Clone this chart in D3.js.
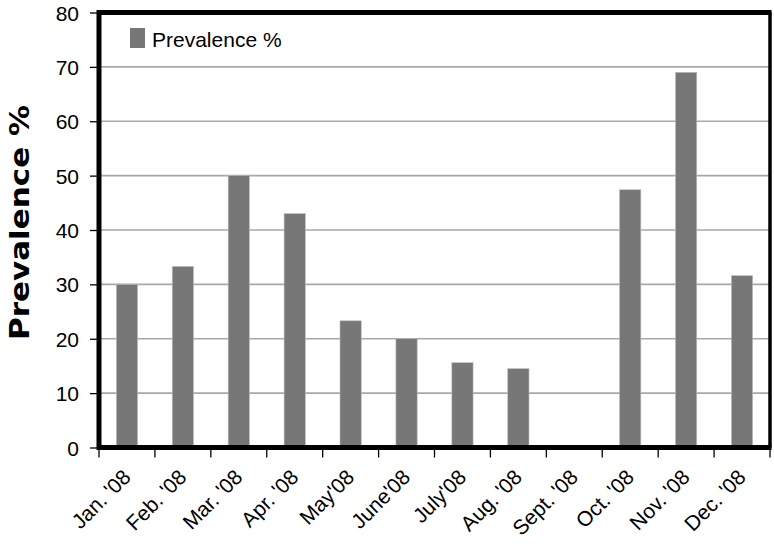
<!DOCTYPE html>
<html lang="en">
<head>
  <meta charset="UTF-8">
  <title>Prevalence %</title>
  <style>
    body { margin: 0; background: #fff; }
    .axis text { font-family: "Liberation Sans", Arial, sans-serif; fill: #000; }
    .grid line { stroke: #a8a8a8; stroke-width: 1.6; }
  </style>
</head>
<body>
  <script src="https://cdn.jsdelivr.net/npm/d3@7/dist/d3.min.js"></script>
  <script>
    // data
    var months = ["Jan. '08", "Feb. '08", "Mar. '08", "Apr. '08", "May'08", "June'08",
                  "July'08", "Aug. '08", "Sept. '08", "Oct. '08", "Nov. '08", "Dec. '08"];
    var prevalence = [30, 33.3, 50, 43, 23.3, 20, 15.6, 14.5, 0, 47.4, 69, 31.6];
    var yTicks = [0, 10, 20, 30, 40, 50, 60, 70, 80];

    var width = 774, height = 553;
    var plotL = 99, plotR = 770, plotT = 12.5, plotB = 447.5;

    var svg = d3.select("body").append("svg").attr("width", width).attr("height", height);

    var x = d3.scaleBand().domain(months).range([plotL, plotR]).paddingInner(0.62).paddingOuter(0.31);
    var xb = d3.scaleBand().domain(months).range([plotL, plotR]); // whole bands for ticks
    var y = d3.scaleLinear().domain([0, 80]).range([plotB, plotT]);

    // gridlines
    svg.append("g").attr("class", "grid")
      .selectAll("line").data(yTicks.slice(1, -1)).enter().append("line")
      .attr("x1", plotL).attr("x2", plotR)
      .attr("y1", function (d) { return y(d); }).attr("y2", function (d) { return y(d); });

    // bars
    svg.selectAll("rect.bar").data(prevalence).enter().append("rect")
      .attr("class", "bar")
      .attr("x", function (d, i) { return x(months[i]); })
      .attr("width", x.bandwidth())
      .attr("y", function (d) { return y(d); })
      .attr("height", function (d) { return plotB - y(d); })
      .attr("fill", "#777777")
      .attr("stroke", "#bdbdbd").attr("stroke-width", 0.6);

    // y axis
    var yAxis = d3.axisLeft(y).tickValues(yTicks).tickSize(9).tickPadding(11);
    var gy = svg.append("g").attr("class", "axis").attr("transform", "translate(" + plotL + ",0)").call(yAxis);
    gy.select(".domain").remove();
    gy.selectAll(".tick line").attr("stroke", "#000").attr("stroke-width", 1.3);
    gy.selectAll("text").style("font-size", "21px").attr("dy", "0.36em");

    // x axis ticks at band edges
    var edges = months.map(function (m) { return xb(m); }).concat([plotR]);
    svg.append("g").selectAll("line").data(edges).enter().append("line")
      .attr("x1", function (d) { return d; }).attr("x2", function (d) { return d; })
      .attr("y1", plotB).attr("y2", plotB + 10)
      .attr("stroke", "#000").attr("stroke-width", 1.3);

    // x labels rotated
    svg.append("g").attr("class", "axis").selectAll("text").data(months).enter().append("text")
      .attr("transform", function (d) {
        return "translate(" + (xb(d) + xb.bandwidth() / 2 + 5) + "," + (plotB + 31) + ") rotate(-45)";
      })
      .attr("text-anchor", "end")
      .style("font-size", "21px")
      .text(function (d) { return d; });

    // frame
    svg.append("line").attr("x1", plotL - 2).attr("x2", plotR + 1.5).attr("y1", plotT).attr("y2", plotT)
      .attr("stroke", "#000").attr("stroke-width", 5);
    svg.append("line").attr("x1", plotR).attr("x2", plotR).attr("y1", plotT).attr("y2", plotB)
      .attr("stroke", "#000").attr("stroke-width", 3.5);
    svg.append("line").attr("x1", plotL).attr("x2", plotL).attr("y1", plotT - 2.5).attr("y2", plotB + 2.5)
      .attr("stroke", "#000").attr("stroke-width", 5);
    svg.append("line").attr("x1", plotL - 2).attr("x2", plotR + 1.5).attr("y1", plotB).attr("y2", plotB)
      .attr("stroke", "#000").attr("stroke-width", 5);

    // y title
    svg.append("text")
      .attr("transform", "translate(29,222.5) rotate(-90)")
      .attr("text-anchor", "middle")
      .attr("textLength", 235)
      .attr("lengthAdjust", "spacingAndGlyphs")
      .style("font-family", "'DejaVu Sans', sans-serif")
      .style("font-weight", "bold")
      .style("font-size", "27px")
      .text("Prevalence %");

    // legend
    var lg = svg.append("g").attr("transform", "translate(130,28)");
    lg.append("rect").attr("width", 15).attr("height", 20).attr("fill", "#777777");
    lg.append("text").attr("x", 22).attr("y", 19)
      .style("font-family", "'Liberation Sans', Arial, sans-serif")
      .style("font-size", "21px")
      .text("Prevalence %");
  </script>
</body>
</html>
